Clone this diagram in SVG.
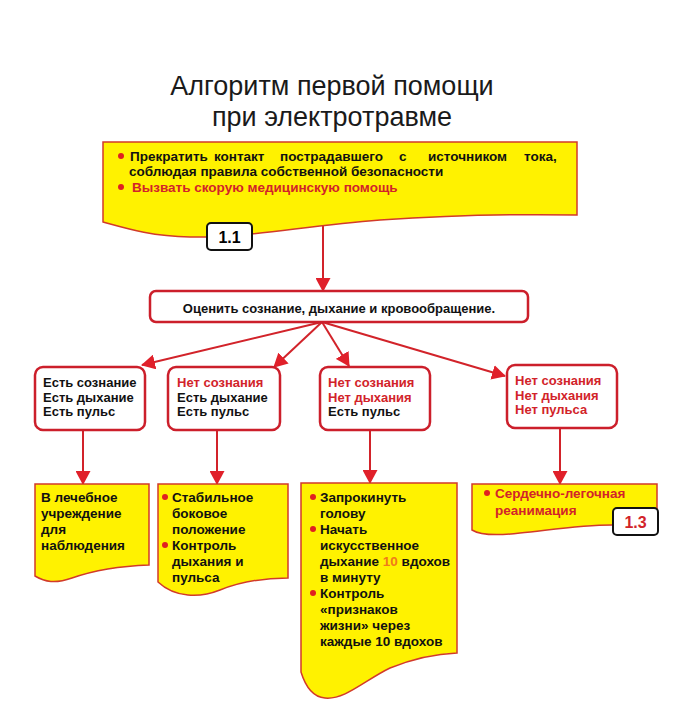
<svg xmlns="http://www.w3.org/2000/svg" width="700" height="710" viewBox="0 0 700 710">
<defs>
<style>
text{font-family:"Liberation Sans",Arial,sans-serif;}
.title{font-size:27px;fill:#1a1a1a;text-anchor:middle;}
.b{font-weight:bold;font-size:13.5px;fill:#111;}
.w{font-weight:bold;font-size:13px;fill:#111;}
.r{fill:#d2232a;}
.o{fill:#f07a1a;}
.yel{fill:#fff200;stroke:#d23a2a;stroke-width:1.5;}
.wb{fill:#fff;stroke:#cc1f2b;stroke-width:2.5;}
.lab{fill:#fff;stroke:#111;stroke-width:2;}
.labt{font-weight:bold;font-size:16px;text-anchor:middle;}
.dot{fill:#e02020;}
.con{stroke:#d2232a;stroke-width:2;fill:none;marker-end:url(#ah);}
</style>
<marker id="ah" viewBox="0 0 14 15" refX="13" refY="7.5" markerWidth="14" markerHeight="15" markerUnits="userSpaceOnUse" orient="auto">
<path d="M0,0 L14,7.5 L0,15 Z" fill="#e0202a"/>
</marker>
</defs>
<rect width="700" height="710" fill="#fff"/>
<g id="title">
<text class="title" x="332" y="95">Алгоритм первой помощи</text>
<text class="title" x="332" y="126">при электротравме</text>
</g>
<g id="connectors">
<line class="con" x1="323" y1="226" x2="323" y2="291"/>
<line class="con" x1="322" y1="322" x2="142" y2="365"/>
<line class="con" x1="322" y1="322" x2="274" y2="367"/>
<line class="con" x1="322" y1="322" x2="349" y2="366"/>
<line class="con" x1="322" y1="322" x2="505" y2="376"/>
<line class="con" x1="83" y1="430" x2="83" y2="484"/>
<line class="con" x1="217" y1="430" x2="217" y2="484"/>
<line class="con" x1="370" y1="430" x2="370" y2="483"/>
<line class="con" x1="560" y1="428" x2="560" y2="484"/>
</g>
<g id="node-start">
<path class="yel" d="M103,142 L577,142 L577,215 C520,214 440,216 380,220 C300,226 250,238 190,237 C150,236 125,228 103,222 Z"/>
<circle class="dot" cx="121" cy="156" r="3"/>
<text class="b" y="161"><tspan x="130">Прекратить</tspan><tspan x="214">контакт</tspan><tspan x="280">пострадавшего</tspan><tspan x="399">с</tspan><tspan x="428">источником</tspan><tspan x="524">тока,</tspan></text>
<text class="b" x="129" y="176">соблюдая правила собственной безопасности</text>
<circle class="dot" cx="121" cy="187" r="3"/>
<text class="b r" x="132" y="192">Вызвать скорую медицинскую помощь</text>
</g>
<g id="label-1-1">
<rect class="lab" x="207" y="223" width="45" height="27" rx="4"/>
<text class="labt" x="229.5" y="243">1.1</text>
</g>
<g id="node-assess">
<rect class="wb" x="150" y="291" width="378" height="31" rx="6"/>
<text class="w" x="339" y="313" text-anchor="middle">Оценить сознание, дыхание и кровообращение.</text>
</g>
<g id="node-s1">
<rect class="wb" x="35" y="367" width="110" height="63" rx="8"/>
<text class="w" x="43" y="387">Есть сознание</text>
<text class="w" x="43" y="402">Есть дыхание</text>
<text class="w" x="43" y="416">Есть пульс</text>
</g>
<g id="node-s2">
<rect class="wb" x="168" y="367" width="112" height="63" rx="8"/>
<text class="w r" x="177" y="387">Нет сознания</text>
<text class="w" x="177" y="402">Есть дыхание</text>
<text class="w" x="177" y="416">Есть пульс</text>
</g>
<g id="node-s3">
<rect class="wb" x="320" y="367" width="110" height="63" rx="8"/>
<text class="w r" x="328" y="387">Нет сознания</text>
<text class="w r" x="328" y="402">Нет дыхания</text>
<text class="w" x="328" y="416">Есть пульс</text>
</g>
<g id="node-s4">
<rect class="wb" x="507" y="365" width="110" height="63" rx="8"/>
<text class="w r" x="515" y="385">Нет сознания</text>
<text class="w r" x="515" y="400">Нет дыхания</text>
<text class="w r" x="515" y="414">Нет пульса</text>
</g>
<g id="node-a1">
<path class="yel" d="M35,484 L149,484 L149,565 C120,566 92,571 72,578 C55,584 45,582 35,576 Z"/>
<text class="b" x="41" y="502">В лечебное</text>
<text class="b" x="41" y="518">учреждение</text>
<text class="b" x="41" y="534">для</text>
<text class="b" x="41" y="550">наблюдения</text>
</g>
<g id="node-a2">
<path class="yel" d="M158,484 L288,484 L288,578 C262,578 240,582 220,590 C200,598 175,598 158,582 Z"/>
<circle class="dot" cx="165" cy="497" r="3"/>
<text class="b" x="172" y="502">Стабильное</text>
<text class="b" x="172" y="518">боковое</text>
<text class="b" x="172" y="534">положение</text>
<circle class="dot" cx="165" cy="545" r="3"/>
<text class="b" x="172" y="550">Контроль</text>
<text class="b" x="172" y="566">дыхания и</text>
<text class="b" x="172" y="582">пульса</text>
</g>
<g id="node-a3">
<path class="yel" d="M301,483 L457,483 L457,653 C430,654 410,660 390,668 C365,680 345,700 325,698 C312,697 305,685 301,672 Z"/>
<circle class="dot" cx="313" cy="497" r="3"/>
<text class="b" x="320" y="502">Запрокинуть</text>
<text class="b" x="320" y="518">голову</text>
<circle class="dot" cx="313" cy="529" r="3"/>
<text class="b" x="320" y="534">Начать</text>
<text class="b" x="320" y="550">искусственное</text>
<text class="b" x="320" y="566">дыхание <tspan class="o">10</tspan> вдохов</text>
<text class="b" x="320" y="582">в минуту</text>
<circle class="dot" cx="313" cy="593" r="3"/>
<text class="b" x="320" y="598">Контроль</text>
<text class="b" x="320" y="614">«признаков</text>
<text class="b" x="320" y="630">жизни» через</text>
<text class="b" x="320" y="646">каждые 10 вдохов</text>
</g>
<g id="node-a4">
<path class="yel" d="M472,484 L657,484 L657,525 L612,525 C580,525 550,530 520,533 C495,536 480,535 472,530 Z"/>
<circle class="dot" cx="487" cy="493" r="3"/>
<text class="b r" x="495" y="498">Сердечно-легочная</text>
<text class="b r" x="495" y="515">реанимация</text>
</g>
<g id="label-1-3">
<rect class="lab" x="613" y="508" width="45" height="27" rx="4"/>
<text class="labt r" x="635.5" y="528">1.3</text>
</g>
</svg>
